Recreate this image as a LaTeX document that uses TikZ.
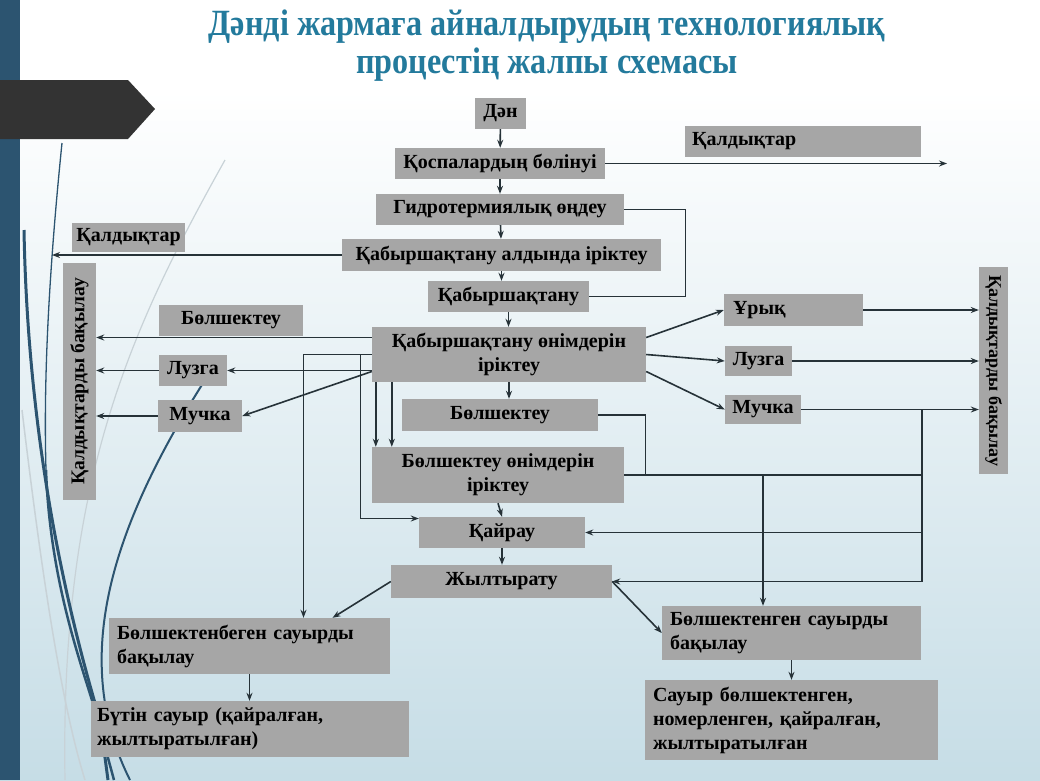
\documentclass[tikz,border=0pt]{standalone}
\usepackage{fontspec}
\setmainfont{Liberation Serif}
\usetikzlibrary{arrows.meta}
\definecolor{boxgray}{RGB}{166,166,166}
\definecolor{linedark}{RGB}{38,50,56}
\definecolor{titleblue}{RGB}{35,122,156}
\definecolor{barblue}{RGB}{44,84,112}
\definecolor{bgblue}{RGB}{198,221,230}
\definecolor{bgmid}{RGB}{230,239,243}
\definecolor{tabgray}{RGB}{51,51,51}
\definecolor{wispgray}{RGB}{200,210,215}
\tikzset{
  proc/.style={fill=boxgray, inner sep=0pt, font=\bfseries\fontsize{20}{24}\selectfont, align=center},
  procl/.style={proc, align=left},
  conn/.style={draw=linedark, line width=1.6pt},
  thinconn/.style={draw=linedark, line width=1.1pt},
  wisp/.style={draw=barblue, line width=2.5pt}
}
\begin{document}
\begin{tikzpicture}[x=1pt, y=-1pt, >={Stealth[length=8pt,width=6pt]}]
\useasboundingbox (0,0) rectangle (1040,780);
% background
\fill[top color=white, middle color=bgmid, bottom color=bgblue] (0,90) rectangle (1040,780);
\fill[barblue] (0,0) rectangle (20,780);
\fill[tabgray] (0,80) -- (128,80) -- (155,109) -- (128,139) -- (0,139) -- cycle;
\draw[wispgray, line width=1.2pt] (225,160) .. controls (130,330) and (60,480) .. (65,780);
\draw[wispgray, line width=1.5pt] (22,410) .. controls (40,560) and (60,700) .. (85,780);
\draw[wisp, line width=1.3pt] (62,143) .. controls (46,300) and (44,400) .. (46,470);
\draw[wisp] (46,470) .. controls (50,580) and (80,660) .. (95,710) -- (114,780);
\draw[wisp, line width=3pt] (24,230) .. controls (28,450) and (70,620) .. (100,720) -- (108,780);
\draw[wisp, line width=2pt] (205,380) .. controls (110,530) and (70,660) .. (130,780);
% title
\node[text=titleblue, font=\bfseries\fontsize{37}{40}\selectfont] (t1) at (547,27) {\scalebox{0.87}[1]{Дәнді жармаға айналдырудың технологиялық}};
\node[text=titleblue, font=\bfseries\fontsize{37}{40}\selectfont] (t2) at (547,65) {\scalebox{0.87}[1]{процестің жалпы схемасы}};
% boxes
\node[proc, minimum width=51, minimum height=31] (1) at (500.5,113.5) {Дән};
\node[proc, minimum width=210, minimum height=31] (2) at (500,163.5) {Қоспалардың бөлінуі};
\node[procl, text width=222, inner xsep=7, minimum height=31] (3) at (803,141.5) {Қалдықтар};
\node[proc, minimum width=248, minimum height=31] (4) at (500,209.5) {Гидротермиялық өңдеу};
\node[proc, minimum width=113, minimum height=29] (5) at (128.5,237.5) {Қалдықтар};
\node[proc, minimum width=319, minimum height=32] (6) at (501.5,255) {Қабыршақтану алдында іріктеу};
\node[proc, minimum width=161, minimum height=31] (7) at (508.5,296.5) {Қабыршақтану};
\node[proc, minimum width=274, minimum height=55] (8) at (509,354.5) {Қабыршақтану өнімдерін\\іріктеу};
\node[proc, minimum width=196, minimum height=32] (9) at (500,415) {Бөлшектеу};
\node[proc, minimum width=252, minimum height=56] (10) at (498,475) {Бөлшектеу өнімдерін\\іріктеу};
\node[proc, minimum width=166, minimum height=31] (11) at (502,532.5) {Қайрау};
\node[proc, minimum width=221, minimum height=33] (12) at (501.5,581.5) {Жылтырату};
\node[proc, minimum width=144, minimum height=31] (13) at (231,320.5) {Бөлшектеу};
\node[proc, minimum width=68, minimum height=31] (14) at (193,370.5) {Лузга};
\node[proc, minimum width=84, minimum height=32] (15) at (200,416) {Мучка};
\node[proc, rotate=90, minimum width=237, minimum height=33, font=\bfseries\fontsize{19.5}{24}\selectfont] (16) at (79.5,381.5) {Қалдықтарды бақылау};
\node[proc, rotate=-90, minimum width=207, minimum height=29, font=\bfseries\fontsize{18}{24}\selectfont] (17) at (993.5,370.5) {Қалдықтарды бақылау};
\node[procl, text width=121, inner xsep=9, minimum height=32] (18) at (793.5,310) {Ұрық};
\node[proc, minimum width=67, minimum height=30] (19) at (758.5,361) {Лузга};
\node[proc, minimum width=76, minimum height=29] (20) at (763,409.5) {Мучка};
\node[procl, text width=265, inner xsep=8, minimum height=56] (21) at (249.5,646) {Бөлшектенбеген сауырды\\бақылау};
\node[procl, text width=306, inner xsep=6, minimum height=56] (22) at (250,729) {Бүтін сауыр (қайралған,\\жылтыратылған)};
\node[procl, text width=243, inner xsep=8, minimum height=54] (23) at (791.5,633) {Бөлшектенген сауырды\\бақылау};
\node[procl, text width=277, inner xsep=8, minimum height=80] (24) at (791.5,720) {Сауыр бөлшектенген,\\номерленген, қайралған,\\жылтыратылған};
\coordinate (q1) at (947,163.5);
\coordinate (q2) at (52,255);
\coordinate (b2) at (922,581.5);
% connectors
\path[conn,->] (1) -- (2);
\path[conn,->] (2) -- (4);
\path[thinconn,->] (2.east) -- (q1);
\path[conn,->] (4) -- (6);
\path[thinconn] (4.east) -- ++(61,0) |- (7.east);
\path[conn,->] (6.west) -- (q2);
\path[conn,->] (6.south) -- (6.south |- 7.north);
\path[conn,->] (7.south) -- (7.south |- 8.north);
\path[conn,->] (8.south) -- (8.south |- 9.north);
\path[conn,->] ([yshift=17pt]8.west) -- ([yshift=17pt]8.west -| 16.south);
\path[conn,->] ([yshift=-16pt]8.west) -- (14.east);
\path[conn,->] (14.west) -- (14.west -| 16.south);
\path[conn,->] ([yshift=-17pt]8.west) -- (15.east);
\path[thinconn,->] (15.west) -- (15.west -| 16.south);
\path[conn,->] (8.west) -| ([xshift=54pt]21.north);
\path[thinconn,->] (8.west) -- ++(-11,0) |- ([yshift=14pt]11.west);
\path[conn,->] ([xshift=4pt]8.south west) -- ([xshift=4pt]8.south west |- 10.north);
\path[conn,->] ([xshift=20pt]8.south west) -- ([xshift=20pt]8.south west |- 10.north);
\path[conn,->] ([yshift=17pt]8.east) -- (18.west);
\path[conn,->] (8.east) -- (19.west);
\path[conn,->] ([yshift=-17pt]8.east) -- (20.west);
\path[conn,->] (18.east) -- (18.east -| 17.south);
\path[conn,->] (19.east) -- (19.east -| 17.south);
\path[thinconn,->] (20.east) -- (20.east -| 17.south);
\path[thinconn] (20.east -| b2) -- (b2);
\path[thinconn,->] (b2) -- (12.east);
\path[thinconn,->] (11.east -| b2) -- (11.east);
\path[thinconn] (9.east) -| ([xshift=21pt]10.east);
\path[thinconn] (10.east) -- (10.east -| b2);
\path[conn,->] ([xshift=-28.5pt]23.north |- 10.east) -- ([xshift=-28.5pt]23.north);
\path[conn,->] (10.south) -- (11.north);
\path[conn,->] (11.south) -- (11.south |- 12.north);
\path[conn,->] (12.west) -- ([xshift=83pt]21.north);
\path[conn,->] (12.east) -- (23.west);
\path[thinconn,->] (21.south) -- (21.south |- 22.north);
\path[thinconn,->] (23.south) -- (23.south |- 24.north);
\end{tikzpicture}
\end{document}
